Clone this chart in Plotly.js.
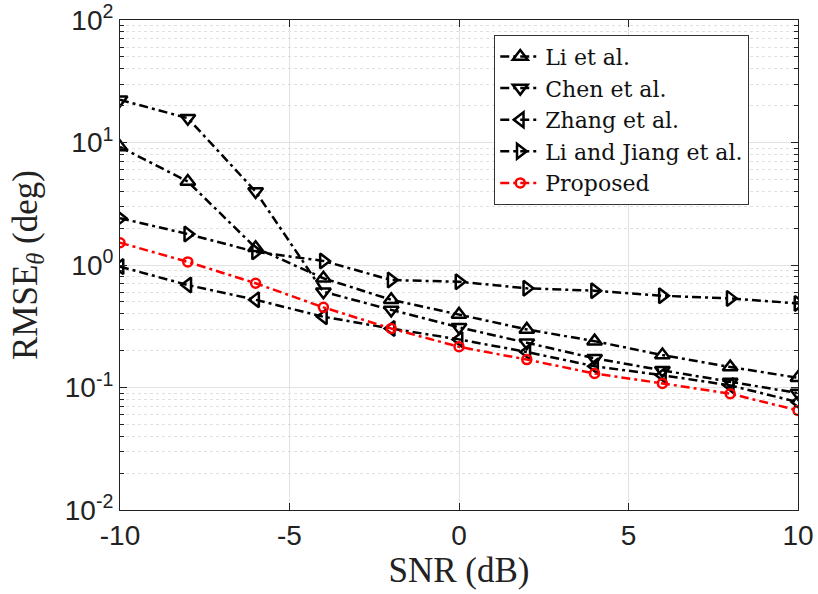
<!DOCTYPE html>
<html>
<head>
<meta charset="utf-8">
<script src="https://cdn.plot.ly/plotly-3.0.1.min.js"></script>
<style>html,body{margin:0;padding:0;background:#fff;}#plot{width:818px;height:594px;}</style>
</head>
<body>
<div id="plot"></div>
<script>
const snr = [-10, -8, -6, -4, -2, 0, 2, 4, 6, 8, 10];
const liEtAl = [9.2, 4.8, 1.38, 0.78, 0.52, 0.395, 0.298, 0.239, 0.184, 0.147, 0.12];
const chenEtAl = [22.3, 15.8, 3.98, 0.605, 0.43, 0.31, 0.232, 0.173, 0.138, 0.111, 0.09];
const zhangEtAl = [0.97, 0.686, 0.52, 0.378, 0.303, 0.247, 0.195, 0.149, 0.126, 0.104, 0.076];
const liJiangEtAl = [2.41, 1.79, 1.28, 1.08, 0.754, 0.73, 0.645, 0.617, 0.561, 0.534, 0.486];
const proposed = [1.52, 1.06, 0.71, 0.451, 0.303, 0.215, 0.169, 0.13, 0.108, 0.089, 0.065];
const names = ['Li et al.', 'Chen et al.', 'Zhang et al.', 'Li and Jiang et al.', 'Proposed'];
const yTickVals = [0.01, 0.1, 1, 10, 100];
const yTickText = ['10<sup>-2</sup>', '10<sup>-1</sup>', '10<sup>0</sup>', '10<sup>1</sup>', '10<sup>2</sup>'];
const xTickVals = [-10, -5, 0, 5, 10];

// minor log ticks (2..9 within each decade of the axis)
const minorVals = [];
for (let e = -2; e < 2; e++) for (let m = 2; m <= 9; m++) minorVals.push(m * Math.pow(10, e));

const series = [liEtAl, chenEtAl, zhangEtAl, liJiangEtAl, proposed];
const symbols = ['triangle-up-open', 'triangle-down-open', 'triangle-left-open', 'triangle-right-open', 'circle-open'];
const colors = ['#000', '#000', '#000', '#000', '#ff0000'];
const sizes = [13, 13, 13, 13, 9];

const traces = series.map((y, i) => ({
  x: snr, y: y, name: names[i], type: 'scatter', mode: 'lines+markers',
  line: {color: colors[i], width: 2.5, dash: '9px,4px,3px,4px'},
  marker: {symbol: symbols[i], size: sizes[i], color: colors[i], line: {color: colors[i], width: 2.5}}
}));

const serif = 'Liberation Serif, DejaVu Serif, serif';
const sans = 'Liberation Sans, Arial, sans-serif';

const layout = {
  width: 818, height: 594,
  margin: {l: 120, r: 20, t: 20, b: 84},
  paper_bgcolor: '#fff', plot_bgcolor: '#fff',
  showlegend: true,
  legend: {
    x: 0.552, y: 0.97, xanchor: 'left', yanchor: 'top',
    bgcolor: '#fff', bordercolor: '#333', borderwidth: 1,
    font: {family: 'DejaVu Serif, serif', size: 22, color: '#111'},
    tracegroupgap: 0, itemwidth: 40
  },
  xaxis: {
    range: [-10, 10], tickmode: 'array', tickvals: xTickVals, ticktext: xTickVals.map(String),
    showgrid: true, gridcolor: '#e2e2e2', gridwidth: 1,
    zeroline: false, showline: true, linecolor: '#222', linewidth: 1, mirror: 'ticks',
    ticks: 'inside', ticklen: 7, tickcolor: '#222',
    tickfont: {family: sans, size: 28, color: '#222'},
    title: {text: 'SNR (dB)', font: {family: serif, size: 35, color: '#222'}, standoff: 2}
  },
  yaxis: {
    type: 'log', range: [-2, 2], tickmode: 'array', tickvals: yTickVals, ticktext: yTickText,
    showgrid: true, gridcolor: '#e2e2e2', gridwidth: 1,
    zeroline: false, showline: true, linecolor: '#222', linewidth: 1, mirror: 'ticks',
    ticks: 'inside', ticklen: 7, tickcolor: '#222',
    minor: {tickmode: 'array', tickvals: minorVals, showgrid: true, gridcolor: '#e0e0e0', griddash: 'dot', gridwidth: 1, ticks: 'inside', ticklen: 4, tickcolor: '#222'},
    tickfont: {family: sans, size: 28, color: '#222'},
    title: {text: 'RMSE<sub><i>θ</i></sub> (deg)', font: {family: serif, size: 35, color: '#222'}, standoff: 16}
  }
};

Plotly.newPlot('plot', traces, layout, {displayModeBar: false, staticPlot: true});
</script>
</body>
</html>
